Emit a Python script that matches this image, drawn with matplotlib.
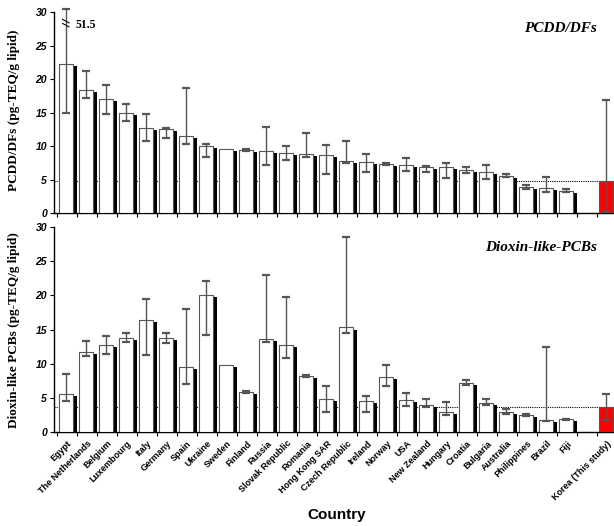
import numpy as np
import matplotlib
matplotlib.use("Agg")
import matplotlib.pyplot as plt

# Country order (a blank slot before Korea)
countries = ['Egypt', 'The Netherlands', 'Belgium', 'Luxembourg', 'Italy', 'Germany',
             'Spain', 'Ukraine', 'Sweden', 'Finland', 'Russia', 'Slovak Republic',
             'Romania', 'Hong Kong SAR', 'Czech Republic', 'Ireland', 'Norway', 'USA',
             'New Zealand', 'Hungary', 'Croatia', 'Bulgaria', 'Australia', 'Philippines',
             'Brazil', 'Fiji', '', 'Korea (This study)']

# PCDD/DFs (pg-TEQ/g lipid): mean, lower and upper error ends
pcdd = [22.3, 18.3, 17.0, 15.0, 12.7, 12.5, 11.5, 10.0, 9.6, 9.4, 9.3, 9.0,
        8.8, 8.6, 7.75, 7.65, 7.3, 7.15, 6.8, 6.8, 6.4, 6.1, 5.6, 3.9,
        3.8, 3.3, np.nan, 4.85]
pcdd_lo = [15.0, 17.2, 14.8, 13.7, 10.8, 11.2, 10.3, 8.4, np.nan, 9.3, 7.2, 7.9,
           8.4, 5.8, 7.4, 6.2, 7.2, 6.3, 6.1, 5.3, 6.0, 5.1, 5.4, 3.6,
           3.2, 3.15, np.nan, 0.1]
pcdd_hi = [51.5, 21.2, 19.1, 16.3, 14.8, 12.7, 18.7, 10.25, np.nan, 9.5, 12.9, 10.0,
           12.0, 10.1, 10.75, 8.8, 7.4, 8.2, 7.05, 7.5, 6.8, 7.2, 5.8, 4.2,
           5.4, 3.55, np.nan, 16.9]

# Dioxin-like PCBs (pg-TEQ/g lipid)
pcb = [5.5, 11.7, 12.7, 13.7, 16.4, 13.7, 9.5, 20.0, 9.8, 5.9, 13.6, 12.7,
       8.2, 4.8, 15.3, 4.6, 8.1, 4.7, 4.0, 2.9, 7.2, 4.3, 3.0, 2.5,
       1.8, 1.85, np.nan, 3.6]
pcb_lo = [4.6, 11.1, 11.4, 13.2, 11.2, 13.0, 7.0, 14.2, np.nan, 5.75, 13.1, 10.9,
          8.05, 3.0, 14.5, 2.9, 6.7, 3.8, 3.6, 2.5, 6.95, 3.9, 2.7, 2.3,
          1.55, 1.8, np.nan, 1.75]
pcb_hi = [8.45, 13.3, 14.1, 14.5, 19.5, 14.5, 18.05, 22.1, np.nan, 6.05, 23.0, 19.7,
          8.3, 6.7, 28.6, 5.3, 9.8, 5.7, 4.9, 4.4, 7.6, 4.9, 3.4, 2.7,
          12.5, 1.9, np.nan, 5.5]

x = np.arange(len(countries))
bar_colors = ['white'] * (len(countries) - 1) + ['#ff0000']

plt.rcParams['font.family'] = 'Liberation Sans'

fig = plt.figure(figsize=(6.14, 5.26), dpi=100)
ax1 = fig.add_axes([0.088, 0.595, 0.917, 0.382])
ax2 = fig.add_axes([0.088, 0.1787, 0.917, 0.3897])


def draw_panel(ax, vals, lo, hi, ref, title, title_y):
    vals = np.array(vals, dtype=float)
    lo = np.array(lo, dtype=float)
    hi = np.array(hi, dtype=float)
    ok = ~np.isnan(vals)

    # black "shadow" on the right side of every bar
    ax.bar(x[ok] + 0.15, vals[ok] - 0.3, width=0.7, color='black', zorder=2)
    ax.bar(x[ok] - 0.03, vals[ok], width=0.7,
           color=[c for c, k in zip(bar_colors, ok) if k],
           edgecolor='#555555', linewidth=0.8, zorder=3)

    # error bars (upper end clipped a little above the axis top)
    e_ok = ~np.isnan(lo)
    hi_plot = np.minimum(hi, 30.5)
    yerr = [vals[e_ok] - lo[e_ok], hi_plot[e_ok] - vals[e_ok]]
    eb = ax.errorbar(x[e_ok] - 0.03, vals[e_ok], yerr=yerr, fmt='none',
                     ecolor='#555555', elinewidth=1.0, capsize=3.2,
                     capthick=1.6, zorder=4)
    for c in eb[1]:
        c.set_color('black')
        c.set_clip_on(False)
    for lc in eb[2]:
        lc.set_clip_on(False)

    # dotted reference line at Korea's level
    ax.axhline(ref, color='black', linestyle=(0, (1, 1)), linewidth=0.8, zorder=1)

    ax.set_xlim(-0.65, 27.5)
    ax.set_ylim(0, 30)
    ax.set_yticks(range(0, 31, 5))
    ax.set_xticks(np.arange(-0.5, 28, 1), minor=True)
    ax.tick_params(axis='x', which='minor', length=3, width=0.8, direction='out')
    ax.tick_params(axis='y', length=3, width=0.8, direction='out', pad=2)
    for lab in ax.get_yticklabels():
        lab.set_fontweight('bold')
        lab.set_fontstyle('italic')
        lab.set_fontsize(7.5)
    for s in ['top', 'right']:
        ax.spines[s].set_visible(False)
    for s in ['left', 'bottom']:
        ax.spines[s].set_linewidth(1.0)

    ax.text(0.964, title_y, title, transform=ax.transAxes, ha='right', va='center',
            fontsize=11, fontweight='bold', fontstyle='italic', family='Liberation Serif')


draw_panel(ax1, pcdd, pcdd_lo, pcdd_hi, pcdd[-1], 'PCDD/DFs', 0.92)
draw_panel(ax2, pcb, pcb_lo, pcb_hi, pcb[-1], 'Dioxin-like-PCBs', 0.902)

# top panel: no category labels
ax1.set_xticks([])

# bottom panel: rotated country names
ax2.set_xticks(x)
ax2.set_xticklabels(countries, rotation=45, ha='right', rotation_mode='anchor',
                    fontsize=6.5, fontweight='bold')
ax2.tick_params(axis='x', which='major', length=0, pad=5)

# Egypt's upper error is off the scale
ax1.plot([-0.22, 0.1], [28.9, 28.4], color='black', lw=0.8, clip_on=False, zorder=6)
ax1.plot([-0.22, 0.1], [28.3, 27.8], color='black', lw=0.8, clip_on=False, zorder=6)
ax1.text(0.4, 28.1, '51.5', fontsize=8.5, fontweight='bold',
         family='Liberation Serif', ha='left', va='center')

fig.text(0.023, 0.79, 'PCDD/DFs (pg-TEQ/g lipid)', rotation=90, ha='center', va='center',
         fontsize=9.5, fontweight='bold', family='Liberation Serif')
fig.text(0.023, 0.373, 'Dioxin-like PCBs (pg-TEQ/g lipid)', rotation=90, ha='center',
         va='center', fontsize=9.5, fontweight='bold', family='Liberation Serif')
fig.text(0.549, 0.021, 'Country', ha='center', va='center', fontsize=11, fontweight='bold')

fig.savefig('out.png', dpi=100)
